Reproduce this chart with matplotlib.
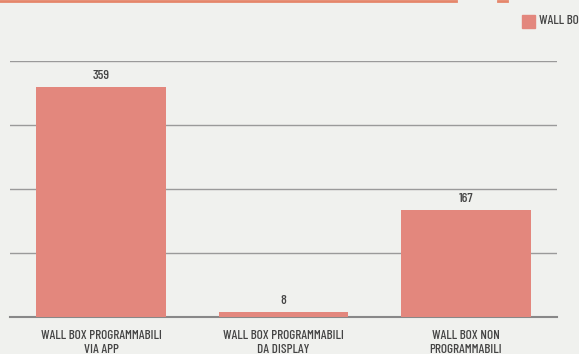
import matplotlib
matplotlib.use("Agg")

import matplotlib.pyplot as plt
from matplotlib.patches import Rectangle
from matplotlib.lines import Line2D

categories = ["WALL BOX PROGRAMMABILI\nVIA APP",
              "WALL BOX PROGRAMMABILI\nDA DISPLAY",
              "WALL BOX NON\nPROGRAMMABILI"]
values = [359, 8, 167]
series_name = "WALL BOX"

BG = "#f0f1ee"
BAR = "#e3877d"
TXT = "#444444"
GRID = "#9a9a9a"

plt.rcParams["font.family"] = ["Barlow Condensed", "Roboto Condensed", "DejaVu Sans"]
plt.rcParams["font.weight"] = "medium"

fig = plt.figure(figsize=(5.79, 3.54), dpi=100, facecolor=BG)
W, H = 579, 354
ax = fig.add_axes([10 / W, 37 / H, 547 / W, 256 / H])
ax.set_facecolor(BG)

x = range(len(categories))
ax.bar(x, values, width=0.71, color=BAR, zorder=3)
for i, v in enumerate(values):
    ax.text(i, v + 8, str(v), ha="center", va="bottom",
            fontsize=9.8, color=TXT)

ax.set_xlim(-0.5, len(categories) - 0.5)
ax.set_ylim(0, 400)
ax.set_yticks([0, 100, 200, 300, 400])
ax.yaxis.grid(True, color=GRID, linewidth=1.0, zorder=0)
ax.tick_params(axis="y", length=0, labelleft=False)
ax.set_xticks(list(x))
ax.set_xticklabels(categories, fontsize=9.5, color=TXT, linespacing=1.22)
ax.tick_params(axis="x", length=0, pad=9.5)
for s in ["top", "right", "left"]:
    ax.spines[s].set_visible(False)
ax.spines["bottom"].set_color("#888888")
ax.spines["bottom"].set_linewidth(1.5)

# legend, running off the right edge as in the original
fig.patches.append(Rectangle((522 / W, 1 - 28 / H), 13 / W, 13 / H,
                             transform=fig.transFigure, color=BAR))
fig.text(539 / W, 1 - 21 / H, series_name, fontsize=9.5, color=TXT,
         va="center", ha="left")

# decorative orange line at the top
fig.lines.append(Line2D([0, 456 / W], [1 - 0.8 / H, 1 - 0.8 / H],
                        transform=fig.transFigure, color="#e5866a", linewidth=2))
fig.lines.append(Line2D([498 / W, 507 / W], [1 - 0.8 / H, 1 - 0.8 / H],
                        transform=fig.transFigure, color="#e5866a", linewidth=2))

fig.savefig("out.png", dpi=100, facecolor=BG)
